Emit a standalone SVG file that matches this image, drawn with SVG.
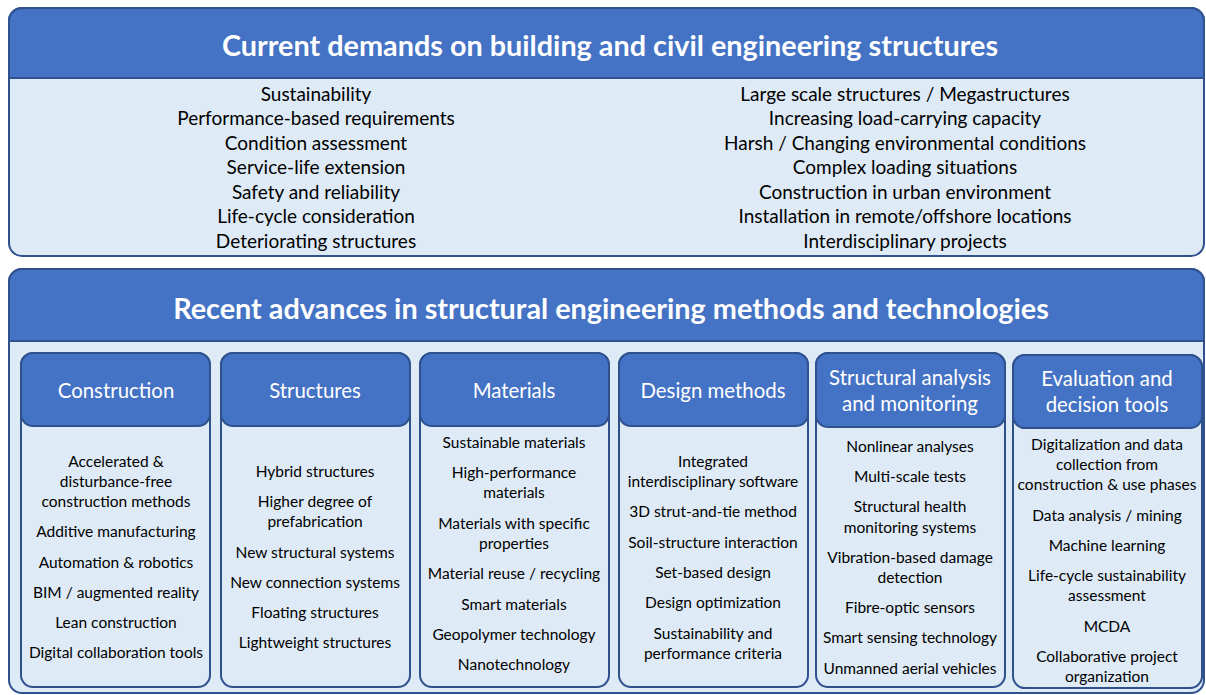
<svg xmlns="http://www.w3.org/2000/svg" width="1206" height="695" viewBox="0 0 1206 695">
<style>
.panel{fill:#DEEAF6;stroke:#2F528F;stroke-width:2}
.phead{fill:#4472C4;stroke:#2F528F;stroke-width:2}
.ttl{font-family:Lato,"Open Sans",sans-serif;font-weight:bold;font-size:28.8px;fill:#fff;text-anchor:middle}
.lst{font-family:Lato,"Open Sans",sans-serif;font-size:19px;fill:#000;text-anchor:middle}
.hd{font-family:Lato,"Open Sans",sans-serif;font-size:20.4px;fill:#fff;text-anchor:middle}
.it{font-family:Lato,"Open Sans",sans-serif;font-size:15.5px;fill:#000;text-anchor:middle}
</style>
<g id="demands">
<rect class="panel" x="9" y="8" width="1195" height="248" rx="13"/>
<path class="phead" d="M9,78 V21 A13,13 0 0 1 22,8 H1191 A13,13 0 0 1 1204,21 V78 Z"/>
<text class="ttl" x="610" y="56">Current demands on building and civil engineering structures</text>
<g class="lst">
<text x="316" y="100.5">Sustainability</text>
<text x="316" y="125">Performance-based requirements</text>
<text x="316" y="149.5">Condition assessment</text>
<text x="316" y="174">Service-life extension</text>
<text x="316" y="198.5">Safety and reliability</text>
<text x="316" y="223">Life-cycle consideration</text>
<text x="316" y="247.5">Deteriorating structures</text>
<text x="905" y="100.5">Large scale structures / Megastructures</text>
<text x="905" y="125">Increasing load-carrying capacity</text>
<text x="905" y="149.5">Harsh / Changing environmental conditions</text>
<text x="905" y="174">Complex loading situations</text>
<text x="905" y="198.5">Construction in urban environment</text>
<text x="905" y="223">Installation in remote/offshore locations</text>
<text x="905" y="247.5">Interdisciplinary projects</text>
</g>
</g>
<g id="advances">
<rect class="panel" x="9" y="269" width="1195" height="424" rx="13"/>
<path class="phead" d="M9,341 V282 A13,13 0 0 1 22,269 H1191 A13,13 0 0 1 1204,282 V341 Z"/>
<text class="ttl" x="611" y="319">Recent advances in structural engineering methods and technologies</text>
</g>
<g id="construction">
<rect class="panel" x="21" y="353" width="189" height="334" rx="12"/>
<rect class="phead" x="21" y="353" width="189" height="73" rx="12"/>
<text class="hd" x="116" y="397.5">Construction</text>
<g class="it">
<text x="116" y="466.5">Accelerated &amp;</text>
<text x="116" y="486.5">disturbance-free</text>
<text x="116" y="506.5">construction methods</text>
<text x="116" y="536.5">Additive manufacturing</text>
<text x="116" y="567.5">Automation &amp; robotics</text>
<text x="116" y="597.5">BIM / augmented reality</text>
<text x="116" y="627.5">Lean construction</text>
<text x="116" y="657.5">Digital collaboration tools</text>
</g>
</g>
<g id="structures">
<rect class="panel" x="221" y="353" width="189" height="334" rx="12"/>
<rect class="phead" x="221" y="353" width="189" height="73" rx="12"/>
<text class="hd" x="315" y="397.5">Structures</text>
<g class="it">
<text x="315" y="476.5">Hybrid structures</text>
<text x="315" y="506.5">Higher degree of</text>
<text x="315" y="526.5">prefabrication</text>
<text x="315" y="557.5">New structural systems</text>
<text x="315" y="587.5">New connection systems</text>
<text x="315" y="617.5">Floating structures</text>
<text x="315" y="647.5">Lightweight structures</text>
</g>
</g>
<g id="materials">
<rect class="panel" x="420" y="353" width="189" height="334" rx="12"/>
<rect class="phead" x="420" y="353" width="189" height="73" rx="12"/>
<text class="hd" x="514" y="397.5">Materials</text>
<g class="it">
<text x="514" y="447.5">Sustainable materials</text>
<text x="514" y="477.5">High-performance</text>
<text x="514" y="497.5">materials</text>
<text x="514" y="528.5">Materials with specific</text>
<text x="514" y="548.5">properties</text>
<text x="514" y="578.5">Material reuse / recycling</text>
<text x="514" y="609.5">Smart materials</text>
<text x="514" y="639.5">Geopolymer technology</text>
<text x="514" y="669.5">Nanotechnology</text>
</g>
</g>
<g id="design">
<rect class="panel" x="619" y="353" width="189" height="334" rx="12"/>
<rect class="phead" x="619" y="353" width="189" height="73" rx="12"/>
<text class="hd" x="713" y="397.5">Design methods</text>
<g class="it">
<text x="713" y="466.5">Integrated</text>
<text x="713" y="486.5">interdisciplinary software</text>
<text x="713" y="516.5">3D strut-and-tie method</text>
<text x="713" y="547.5">Soil-structure interaction</text>
<text x="713" y="577.5">Set-based design</text>
<text x="713" y="607.5">Design optimization</text>
<text x="713" y="638.5">Sustainability and</text>
<text x="713" y="658.5">performance criteria</text>
</g>
</g>
<g id="analysis">
<rect class="panel" x="816" y="353" width="189" height="334" rx="12"/>
<rect class="phead" x="816" y="353" width="189" height="74" rx="12"/>
<text class="hd" x="910" y="385">Structural analysis</text>
<text class="hd" x="910" y="410.5">and monitoring</text>
<g class="it">
<text x="910" y="451.5">Nonlinear analyses</text>
<text x="910" y="481.5">Multi-scale tests</text>
<text x="910" y="511.5">Structural health</text>
<text x="910" y="532.5">monitoring systems</text>
<text x="910" y="562.5">Vibration-based damage</text>
<text x="910" y="582.5">detection</text>
<text x="910" y="612.5">Fibre-optic sensors</text>
<text x="910" y="642.5">Smart sensing technology</text>
<text x="910" y="673.5">Unmanned aerial vehicles</text>
</g>
</g>
<g id="evaluation">
<rect class="panel" x="1013" y="355" width="189" height="333" rx="12"/>
<rect class="phead" x="1013" y="355" width="189" height="73" rx="12"/>
<text class="hd" x="1107" y="386">Evaluation and</text>
<text class="hd" x="1107" y="412">decision tools</text>
<g class="it">
<text x="1107" y="449.5">Digitalization and data</text>
<text x="1107" y="469.5">collection from</text>
<text x="1107" y="489.5">construction &amp; use phases</text>
<text x="1107" y="520.5">Data analysis / mining</text>
<text x="1107" y="550.5">Machine learning</text>
<text x="1107" y="580.5">Life-cycle sustainability</text>
<text x="1107" y="600.5">assessment</text>
<text x="1107" y="631.5">MCDA</text>
<text x="1107" y="661.5">Collaborative project</text>
<text x="1107" y="681.5">organization</text>
</g>
</g>
<g id="connectors"/>
</svg>
